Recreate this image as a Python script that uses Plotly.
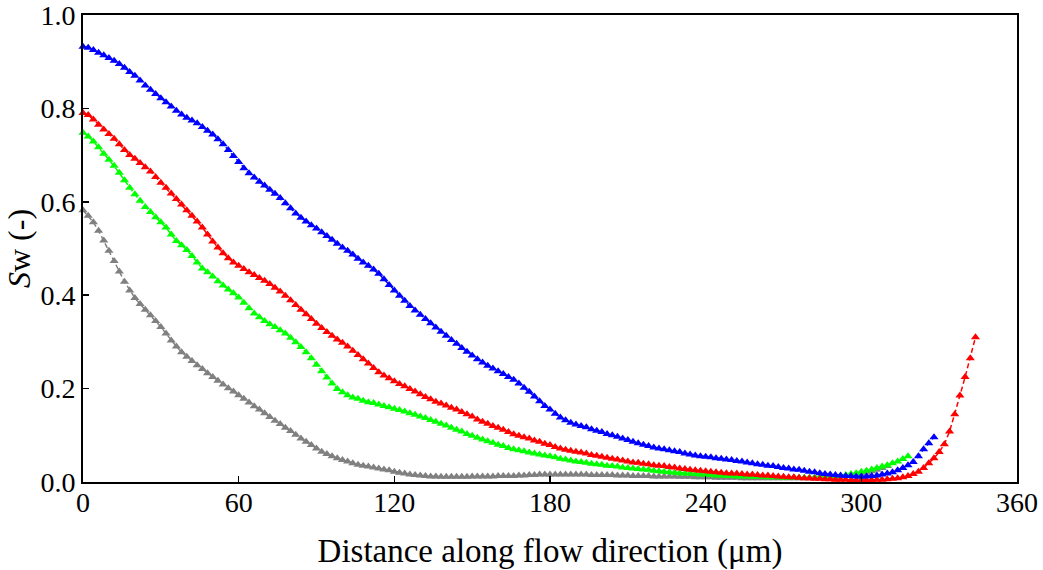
import plotly.graph_objects as go

STEP_UM = 2  # sampling step along the flow direction (µm)

blue_sw = [
    0.932, 0.930, 0.925, 0.919, 0.914, 0.908, 0.902, 0.895, 0.887, 0.878,
    0.870, 0.860, 0.849, 0.840, 0.831, 0.822, 0.813, 0.804, 0.795, 0.787,
    0.780, 0.774, 0.768, 0.760, 0.752, 0.744, 0.734, 0.723, 0.711, 0.698,
    0.685, 0.672, 0.661, 0.652, 0.643, 0.635, 0.626, 0.617, 0.608, 0.597,
    0.586, 0.575, 0.566, 0.558, 0.550, 0.543, 0.535, 0.527, 0.519, 0.510,
    0.502, 0.495, 0.487, 0.478, 0.470, 0.463, 0.455, 0.446, 0.434, 0.422,
    0.410, 0.399, 0.388, 0.377, 0.367, 0.358, 0.349, 0.340, 0.331, 0.322,
    0.313, 0.304, 0.296, 0.287, 0.279, 0.271, 0.263, 0.256, 0.249, 0.243,
    0.237, 0.231, 0.225, 0.219, 0.211, 0.202, 0.193, 0.183, 0.173, 0.163,
    0.155, 0.146, 0.138, 0.132, 0.127, 0.123, 0.120, 0.117, 0.113, 0.110,
    0.107, 0.103, 0.100, 0.097, 0.093, 0.090, 0.086, 0.083, 0.080, 0.077,
    0.074, 0.072, 0.070, 0.068, 0.066, 0.064, 0.061, 0.059, 0.057, 0.055,
    0.054, 0.053, 0.051, 0.050, 0.048, 0.047, 0.045, 0.044, 0.042, 0.040,
    0.038, 0.037, 0.035, 0.034, 0.032, 0.030, 0.029, 0.027, 0.026, 0.024,
    0.022, 0.021, 0.019, 0.017, 0.016, 0.015, 0.014, 0.013, 0.013, 0.012,
    0.012, 0.012, 0.013, 0.014, 0.016, 0.018, 0.021, 0.025, 0.030, 0.036,
    0.043, 0.055, 0.070, 0.083, 0.096,
]

red_sw = [
    0.790, 0.786, 0.776, 0.765, 0.755, 0.745, 0.735, 0.723, 0.711, 0.700,
    0.692, 0.683, 0.674, 0.665, 0.653, 0.641, 0.630, 0.618, 0.606, 0.594,
    0.582, 0.570, 0.558, 0.545, 0.530, 0.515, 0.502, 0.490, 0.479, 0.470,
    0.463, 0.456, 0.449, 0.443, 0.437, 0.431, 0.424, 0.416, 0.408, 0.399,
    0.389, 0.379, 0.369, 0.359, 0.349, 0.339, 0.330, 0.321, 0.313, 0.305,
    0.298, 0.290, 0.281, 0.272, 0.263, 0.254, 0.244, 0.235, 0.228, 0.222,
    0.216, 0.210, 0.205, 0.199, 0.194, 0.188, 0.182, 0.177, 0.172, 0.168,
    0.164, 0.159, 0.155, 0.150, 0.145, 0.140, 0.134, 0.129, 0.125, 0.120,
    0.116, 0.112, 0.107, 0.102, 0.099, 0.096, 0.093, 0.089, 0.086, 0.082,
    0.079, 0.075, 0.072, 0.069, 0.067, 0.065, 0.063, 0.061, 0.058, 0.056,
    0.054, 0.052, 0.050, 0.048, 0.046, 0.044, 0.042, 0.041, 0.039, 0.038,
    0.036, 0.035, 0.034, 0.032, 0.031, 0.029, 0.028, 0.026, 0.025, 0.024,
    0.023, 0.022, 0.021, 0.020, 0.019, 0.018, 0.018, 0.017, 0.016, 0.016,
    0.015, 0.014, 0.014, 0.013, 0.012, 0.011, 0.010, 0.010, 0.009, 0.008,
    0.008, 0.007, 0.007, 0.006, 0.006, 0.005, 0.005, 0.005, 0.004, 0.004,
    0.004, 0.004, 0.004, 0.005, 0.005, 0.006, 0.007, 0.008, 0.010, 0.013,
    0.017, 0.022, 0.030, 0.040, 0.051, 0.064, 0.081, 0.108, 0.145, 0.185,
    0.225, 0.265, 0.310,
]

green_sw = [
    0.748, 0.740, 0.729, 0.717, 0.703, 0.690, 0.677, 0.662, 0.646, 0.630,
    0.616, 0.602, 0.589, 0.578, 0.567, 0.556, 0.545, 0.530, 0.516, 0.507,
    0.497, 0.484, 0.470, 0.457, 0.449, 0.440, 0.430, 0.421, 0.412, 0.404,
    0.395, 0.384, 0.372, 0.361, 0.353, 0.345, 0.338, 0.332, 0.325, 0.318,
    0.309, 0.299, 0.289, 0.278, 0.265, 0.251, 0.237, 0.224, 0.211, 0.199,
    0.192, 0.186, 0.181, 0.178, 0.174, 0.171, 0.169, 0.166, 0.163, 0.160,
    0.157, 0.154, 0.151, 0.147, 0.144, 0.140, 0.137, 0.133, 0.129, 0.125,
    0.121, 0.116, 0.112, 0.108, 0.103, 0.099, 0.095, 0.091, 0.087, 0.084,
    0.080, 0.077, 0.073, 0.070, 0.068, 0.066, 0.063, 0.061, 0.059, 0.057,
    0.055, 0.053, 0.050, 0.048, 0.046, 0.044, 0.043, 0.041, 0.039, 0.038,
    0.037, 0.035, 0.034, 0.033, 0.031, 0.030, 0.029, 0.028, 0.027, 0.026,
    0.024, 0.023, 0.022, 0.021, 0.020, 0.019, 0.018, 0.018, 0.017, 0.016,
    0.016, 0.015, 0.014, 0.014, 0.013, 0.013, 0.012, 0.012, 0.012, 0.011,
    0.011, 0.011, 0.010, 0.010, 0.010, 0.009, 0.009, 0.009, 0.009, 0.009,
    0.009, 0.009, 0.010, 0.010, 0.011, 0.012, 0.013, 0.015, 0.017, 0.019,
    0.022, 0.024, 0.027, 0.030, 0.033, 0.036, 0.040, 0.044, 0.049, 0.055,
]

gray_sw = [
    0.582, 0.570, 0.556, 0.538, 0.517, 0.495, 0.473, 0.451, 0.429, 0.410,
    0.394, 0.381, 0.369, 0.357, 0.345, 0.332, 0.318, 0.303, 0.290, 0.278,
    0.268, 0.259, 0.250, 0.242, 0.233, 0.225, 0.217, 0.209, 0.201, 0.194,
    0.186, 0.178, 0.170, 0.162, 0.155, 0.147, 0.139, 0.131, 0.124, 0.116,
    0.109, 0.101, 0.093, 0.086, 0.079, 0.072, 0.065, 0.060, 0.055, 0.051,
    0.047, 0.044, 0.040, 0.037, 0.035, 0.033, 0.031, 0.029, 0.027, 0.025,
    0.022, 0.020, 0.018, 0.016, 0.015, 0.014, 0.013, 0.012, 0.012, 0.011,
    0.011, 0.011, 0.011, 0.011, 0.011, 0.012, 0.012, 0.012, 0.012, 0.012,
    0.013, 0.013, 0.013, 0.013, 0.014, 0.014, 0.015, 0.015, 0.016, 0.016,
    0.016, 0.016, 0.016, 0.016, 0.016, 0.016, 0.016, 0.016, 0.015, 0.015,
    0.015, 0.015, 0.015, 0.014, 0.014, 0.014, 0.013, 0.013, 0.013, 0.013,
    0.012, 0.012, 0.012, 0.012, 0.012, 0.011, 0.011, 0.011, 0.010, 0.010,
    0.010, 0.010, 0.009, 0.009, 0.009, 0.009, 0.009, 0.008, 0.008, 0.008,
    0.008, 0.008, 0.008, 0.008, 0.008, 0.008, 0.008, 0.008, 0.008, 0.008,
    0.008, 0.009, 0.009, 0.010, 0.010, 0.011, 0.012, 0.013, 0.014, 0.016,
    0.018, 0.020, 0.023, 0.026, 0.030, 0.034,
]

x_ticks = [0, 60, 120, 180, 240, 300, 360]
y_ticks = [0.0, 0.2, 0.4, 0.6, 0.8, 1.0]
y_tick_text = ["0.0", "0.2", "0.4", "0.6", "0.8", "1.0"]

series = [
    ("gray", gray_sw, "#808080"),
    ("green", green_sw, "#00FF00"),
    ("red", red_sw, "#FF0000"),
    ("blue", blue_sw, "#0000FF"),
]

FONT = "Liberation Serif, Times New Roman, serif"

fig = go.Figure()
for name, vals, color in series:
    xs = [i * STEP_UM for i in range(len(vals))]
    fig.add_trace(go.Scatter(
        x=xs, y=vals, name=name, mode="lines+markers",
        line=dict(color=color, width=1.5, dash="5px,3px"),
        marker=dict(symbol="triangle-up", size=8, color=color, line=dict(width=0)),
        cliponaxis=False, showlegend=False, hoverinfo="skip",
    ))

fig.update_layout(
    width=1043, height=570,
    margin=dict(l=83, r=26, t=15, b=88),
    paper_bgcolor="white", plot_bgcolor="white",
    font=dict(family=FONT, color="black", size=20),
)
fig.update_xaxes(
    range=[0, 360], tickvals=x_ticks, ticktext=[str(v) for v in x_ticks],
    ticks="inside", ticklen=6, tickwidth=1.5, tickcolor="black",
    showline=True, linecolor="black", linewidth=2, mirror=True,
    showgrid=False, zeroline=False, automargin=False,
    ticklabeloverflow="allow", ticklabelstandoff=-6,
    tickfont=dict(family=FONT, size=28),
    title=dict(text="Distance along flow direction (\u03bcm)",
               font=dict(family=FONT, size=33), standoff=27),
)
fig.update_yaxes(
    range=[0, 1], tickvals=y_ticks, ticktext=y_tick_text,
    ticks="inside", ticklen=6, tickwidth=1.5, tickcolor="black",
    showline=True, linecolor="black", linewidth=2, mirror=True,
    showgrid=False, zeroline=False, automargin=False,
    ticklabeloverflow="allow",
    tickfont=dict(family=FONT, size=28),
    title=dict(text="<i>S</i>w (-)", font=dict(family=FONT, size=32), standoff=0),
)

fig.write_html(
    "out.html",
    config={"displayModeBar": False, "staticPlot": True},
    post_script="document.body.style.margin='0';document.body.style.overflow='hidden';",
)
